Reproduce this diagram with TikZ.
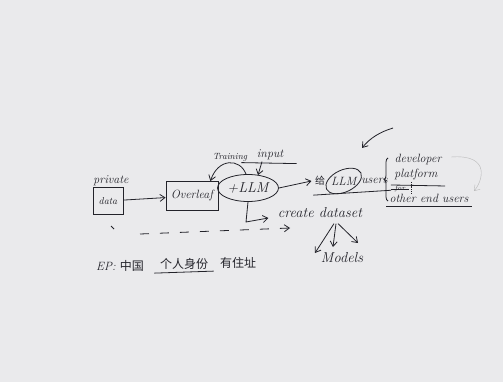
\documentclass[tikz,border=0pt]{standalone}
\usepackage{fontspec}
\newfontfamily\cjk{Noto Sans CJK SC}
\usepackage{tikz}
\usetikzlibrary{arrows.meta,shapes.geometric,positioning,calc}
\usetikzlibrary{decorations.pathreplacing}
\definecolor{board}{RGB}{234,234,236}
\definecolor{ink}{RGB}{35,35,42}

\begin{document}
\begin{tikzpicture}[x=1pt,y=-1pt,
        every node/.style={text=ink,font=\itshape},
        pen/.style={draw=ink,line width=0.8pt},
        box/.style={pen,rectangle,inner sep=3pt},
        arr/.style={pen,-{Straight Barb[length=5pt,width=7pt]}}]
            \fill[board] (0,0) rectangle (503,382);
            %\draw[help lines] (0,0) grid[step=50] (503,382);
            \node (private) at (111,181) {\large private};
            \node[box,minimum width=30,minimum height=27] (data) at (108,201) {data};
            \node[box,minimum width=52,minimum height=29] (overleaf) at (192,196) {\large Overleaf};
            \node[pen,ellipse,minimum width=52,minimum height=27,inner sep=1pt] (llm) at (248,188) {\Large +LLM};
            \draw[arr] (data) -- (overleaf);
            \node (train) at (230,157) {\small Training};
            \node (input) at (270,155) {\large input};
            \draw[pen] ($(input.south west)+(-12,-1)$) -- ($(input.south east)+(10,0)$);
            \draw[arr] ($(llm.north)+(-2,0)$) .. controls (240,158) and (218,158) .. ($(overleaf.north east)+(-8,0)$);
            \draw[arr] ($(input.south)+(-8,-2)$) -- ($(llm.north)+(10,1)$);
            %users
            \node (gei) at (320,181) {\cjk 给};
            \node[right=-1pt of gei] (lm) {\large LLM};
            \node[right=-2pt of lm] (users) {\large users};
            \draw[pen,rotate around={25:(lm.center)}] (lm.center) ellipse [x radius=19, y radius=11];
            \draw[pen] ($(gei.south west)+(2,6)$) -- ($(users.south east)+(0,3)$);
            \draw[arr] (llm.east) -- (gei.west);
            \draw[arr] (393,128) .. controls (380,132) and (370,138) .. (362,148);
            \draw[pen,decorate,decoration={brace,amplitude=4pt}] (388,201) -- (388,158);
            \node (dev) at (418,160) {\large developer};
            \node (plat) at (416,175) {\large platform};
            \draw[pen] ($(plat.south west)+(0,1)$) -- ($(plat.south east)+(4,2)$);
            \node (for) at (400,189) {\scriptsize for};
            \draw[pen] (for.west) -- (for.east);
            \node (others) at (429,198) {\large other end users};
            \draw[pen] ($(others.south west)+(0,1)$) -- ($(others.south east)+(0,1)$);
            \draw[pen,densely dotted] (411,182) -- (411,193);
            \draw[draw=gray!55,-{Straight Barb[length=5pt,width=7pt]}] ($(plat.east)+(10,-18)$) .. controls (492,154) and (482,182) .. ($(others.east)+(2,-7)$);
            %dataset
            \node (dataset) at (320,213) {\Large create dataset};
            \coordinate (bend) at (246,222);
            \draw[arr] (llm.south) -- (bend) -- ($(dataset.west)+(-6,5)$);
            \node (models) at (342,258) {\Large Models};
            \draw[arr] ($(dataset.south)+(14,2)$) -- (315,253);
            \draw[arr] ($(dataset.south)+(16,2)$) -- (333,247);
            \draw[arr] ($(dataset.south)+(18,2)$) -- (358,243);
            %bottom
            \coordinate (dstart) at (140,234);
            \coordinate (dend) at (290,228);
            \draw[pen] (111,226) -- (114,229);
            \draw[arr,dash pattern=on 9pt off 11pt] (dstart) -- (dend);
            \node (ep) at (120,266) {\large EP: \cjk 中国};
            \node (id) at (184,264) {\large\cjk 个人身份};
            \draw[pen] ($(id.south west)+(-2,0)$) -- ($(id.south east)+(2,-2)$);
            \node (addr) at (238,263) {\large\cjk 有住址};
        \end{tikzpicture}
\end{document}
